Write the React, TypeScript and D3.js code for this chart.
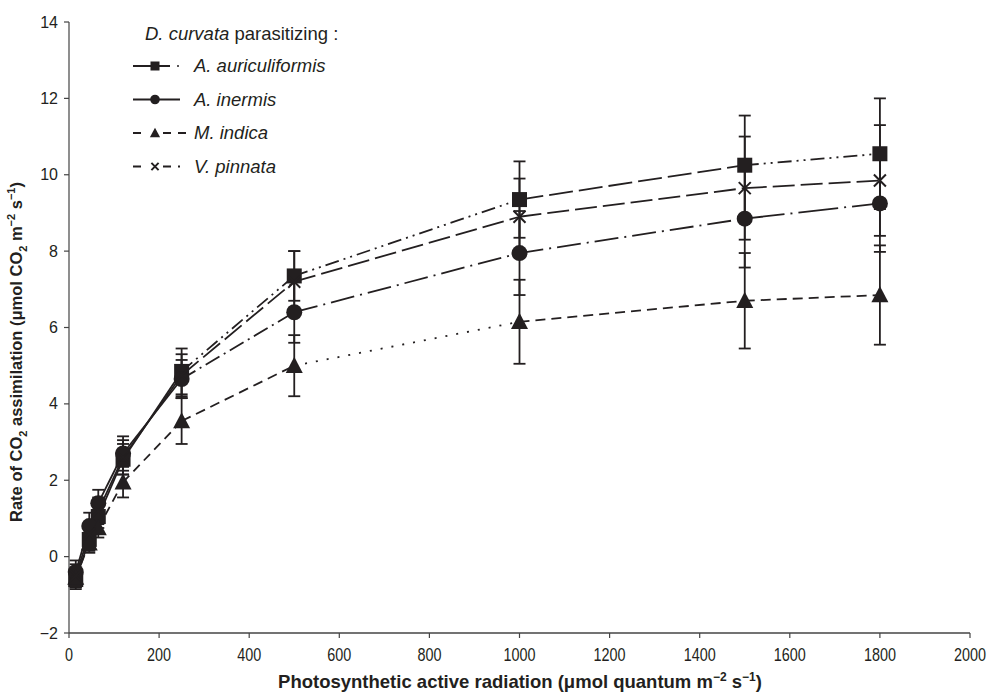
import React from "react";
import * as d3 from "d3";

const par = [15, 45, 65, 120, 250, 500, 1000, 1500, 1800];
const auriculiformis = [-0.6, 0.45, 1.05, 2.55, 4.85, 7.35, 9.35, 10.25, 10.55];
const auriculiformisErr = [0.25, 0.3, 0.3, 0.4, 0.6, 0.65, 1.0, 1.3, 1.45];
const inermis = [-0.4, 0.8, 1.4, 2.7, 4.65, 6.4, 7.95, 8.85, 9.25];
const inermisErr = [0.3, 0.35, 0.35, 0.45, 0.5, 0.8, 1.1, 1.28, 1.27];
const indica = [-0.55, 0.35, 0.75, 1.95, 3.55, 5.0, 6.15, 6.7, 6.85];
const indicaErr = [0.25, 0.25, 0.25, 0.4, 0.6, 0.8, 1.1, 1.25, 1.3];
const pinnata = [-0.5, 0.6, 1.2, 2.6, 4.75, 7.2, 8.9, 9.65, 9.85];
const pinnataErr = [0.3, 0.3, 0.35, 0.45, 0.55, 0.8, 1.0, 1.35, 1.45];
const seriesNames = ["A. auriculiformis", "A. inermis", "M. indica", "V. pinnata"];
const xTicks = [0, 200, 400, 600, 800, 1000, 1200, 1400, 1600, 1800, 2000];
const yTicks = [-2, 0, 2, 4, 6, 8, 10, 12, 14];

const W = 992, H = 692;
const x = d3.scaleLinear().domain([0, 2000]).range([69, 970]);
const y = d3.scaleLinear().domain([-2, 14]).range([633, 22]);
const INK = "#231f20";

const series = [
  { name: seriesNames[0], v: auriculiformis, e: auriculiformisErr, marker: "square",
    dash: ["", "", "", "", "14 5 2 5 2 5", "14 5 2 5 2 5", "24 6", "14 5 2 5 2 5"] },
  { name: seriesNames[1], v: inermis, e: inermisErr, marker: "circle",
    dash: ["", "", "", "", "16 5 2 5", "24 6 2 6", "24 6 2 6", "40 6 2 6"] },
  { name: seriesNames[2], v: indica, e: indicaErr, marker: "triangle",
    dash: ["9 6", "9 6", "9 6", "9 6", "10 6", "2 9", "10 6", "10 6"] },
  { name: seriesNames[3], v: pinnata, e: pinnataErr, marker: "x",
    dash: ["", "", "", "", "22 6", "22 6", "22 6", "22 6"] },
];

function Marker({ type, cx, cy, s = 1 }: { type: string; cx: number; cy: number; s?: number }) {
  if (type === "square") {
    const h = 7.5 * s;
    return <rect x={cx - h} y={cy - h} width={2 * h} height={2 * h} fill={INK} />;
  }
  if (type === "circle") return <circle cx={cx} cy={cy} r={8 * s} fill={INK} />;
  if (type === "triangle") {
    const h = 8.5 * s;
    return <path d={`M${cx},${cy - h * 1.05} L${cx + h},${cy + h * 0.85} L${cx - h},${cy + h * 0.85} Z`} fill={INK} />;
  }
  const h = 6 * s;
  return (
    <path d={`M${cx - h},${cy - h} L${cx + h},${cy + h} M${cx - h},${cy + h} L${cx + h},${cy - h}`}
      stroke={INK} strokeWidth={2} fill="none" />
  );
}

export default function App() {
  const font = "Liberation Sans, Arial, sans-serif";
  return (
    <svg width={W} height={H} style={{ position: "absolute", left: 0, top: 0, background: "#fff" }}
      fontFamily={font}>
      {/* axes */}
      <line x1={x(0)} x2={x(0)} y1={y(-2)} y2={y(14)} stroke="#444" strokeWidth={1.2} />
      <line x1={x(0)} x2={x(2000)} y1={y(-2)} y2={y(-2)} stroke="#444" strokeWidth={1.6} />
      {yTicks.map((t) => (
        <g key={"y" + t}>
          <line x1={x(0) - 5} x2={x(0)} y1={y(t)} y2={y(t)} stroke="#444" strokeWidth={1.2} />
          <text x={x(0) - 11} y={y(t)} dy="0.35em" textAnchor="end" fontSize={16} fill={INK}>
            {t < 0 ? "\u2212" + Math.abs(t) : t}
          </text>
        </g>
      ))}
      {xTicks.map((t) => (
        <g key={"x" + t}>
          <line x1={x(t)} x2={x(t)} y1={y(-2)} y2={y(-2) + 5} stroke="#444" strokeWidth={1.2} />
          <text x={x(t)} y={y(-2) + 28} textAnchor="middle" fontSize={18} fill={INK}
            transform={`translate(${x(t)},0) scale(0.8,1) translate(${-x(t)},0)`}>{t}</text>
        </g>
      ))}
      <text x={520} y={688} textAnchor="middle" fontSize={18.5} fontWeight="bold" fill={INK}>
        Photosynthetic active radiation (μmol quantum m<tspan dy={-7} fontSize={12}>−2</tspan>
        <tspan dy={7}> s</tspan><tspan dy={-7} fontSize={12}>−1</tspan><tspan dy={7}>)</tspan>
      </text>
      <text transform={`translate(22,352) rotate(-90)`} textAnchor="middle" fontSize={16.5}
        fontWeight="bold" fill={INK}>
        Rate of CO<tspan dy={5} fontSize={11}>2</tspan><tspan dy={-5}> assimilation (μmol CO</tspan>
        <tspan dy={5} fontSize={11}>2</tspan><tspan dy={-5}> m</tspan>
        <tspan dy={-7} fontSize={11}>−2</tspan><tspan dy={7}> s</tspan>
        <tspan dy={-7} fontSize={11}>−1</tspan><tspan dy={7}>)</tspan>
      </text>

      {/* lines */}
      {series.map((s) => (
        <g key={s.name + "l"}>
          {par.slice(0, -1).map((p, i) => (
            <line key={i} x1={x(p)} y1={y(s.v[i])} x2={x(par[i + 1])} y2={y(s.v[i + 1])}
              stroke={INK} strokeWidth={1.8} strokeDasharray={s.dash[i] || undefined} />
          ))}
        </g>
      ))}
      {/* error bars */}
      {series.map((s) => (
        <g key={s.name + "e"}>
          {par.map((p, i) => (
            <g key={i}>
              <line x1={x(p)} x2={x(p)} y1={y(s.v[i] - s.e[i])} y2={y(s.v[i] + s.e[i])}
                stroke={INK} strokeWidth={1.8} />
              <line x1={x(p) - 6} x2={x(p) + 6} y1={y(s.v[i] - s.e[i])} y2={y(s.v[i] - s.e[i])}
                stroke={INK} strokeWidth={1.8} />
              <line x1={x(p) - 6} x2={x(p) + 6} y1={y(s.v[i] + s.e[i])} y2={y(s.v[i] + s.e[i])}
                stroke={INK} strokeWidth={1.8} />
            </g>
          ))}
        </g>
      ))}
      {/* markers */}
      {series.map((s) => (
        <g key={s.name + "m"}>
          {par.map((p, i) => <Marker key={i} type={s.marker} cx={x(p)} cy={y(s.v[i])} />)}
        </g>
      ))}

      {/* legend */}
      <text x={145} y={40} fontSize={18.5} fill={INK}>
        <tspan fontStyle="italic">D. curvata</tspan> parasitizing :
      </text>
      {series.map((s, i) => {
        const ly = 66 + i * 33.5;
        const legendDash = ["", "", "8 7", "8 7"][i];
        return (
          <g key={s.name + "lg"}>
            {i === 0 ? (
              <>
                <line x1={133} x2={170} y1={ly} y2={ly} stroke={INK} strokeWidth={1.8} />
                <circle cx={178} cy={ly} r={1} fill={INK} />
              </>
            ) : (
              <line x1={133} x2={i === 2 ? 186 : 180} y1={ly} y2={ly} stroke={INK} strokeWidth={1.8}
                strokeDasharray={legendDash || undefined} />
            )}
            <rect x={147} y={ly - 7} width={16} height={14} fill="#fff" opacity={i >= 2 ? 1 : 0} />
            <Marker type={s.marker} cx={155} cy={ly} s={0.6} />
            <text x={194} y={ly} dy="0.35em" fontSize={18.5} fontStyle="italic" fill={INK}>{s.name}</text>
          </g>
        );
      })}
    </svg>
  );
}
